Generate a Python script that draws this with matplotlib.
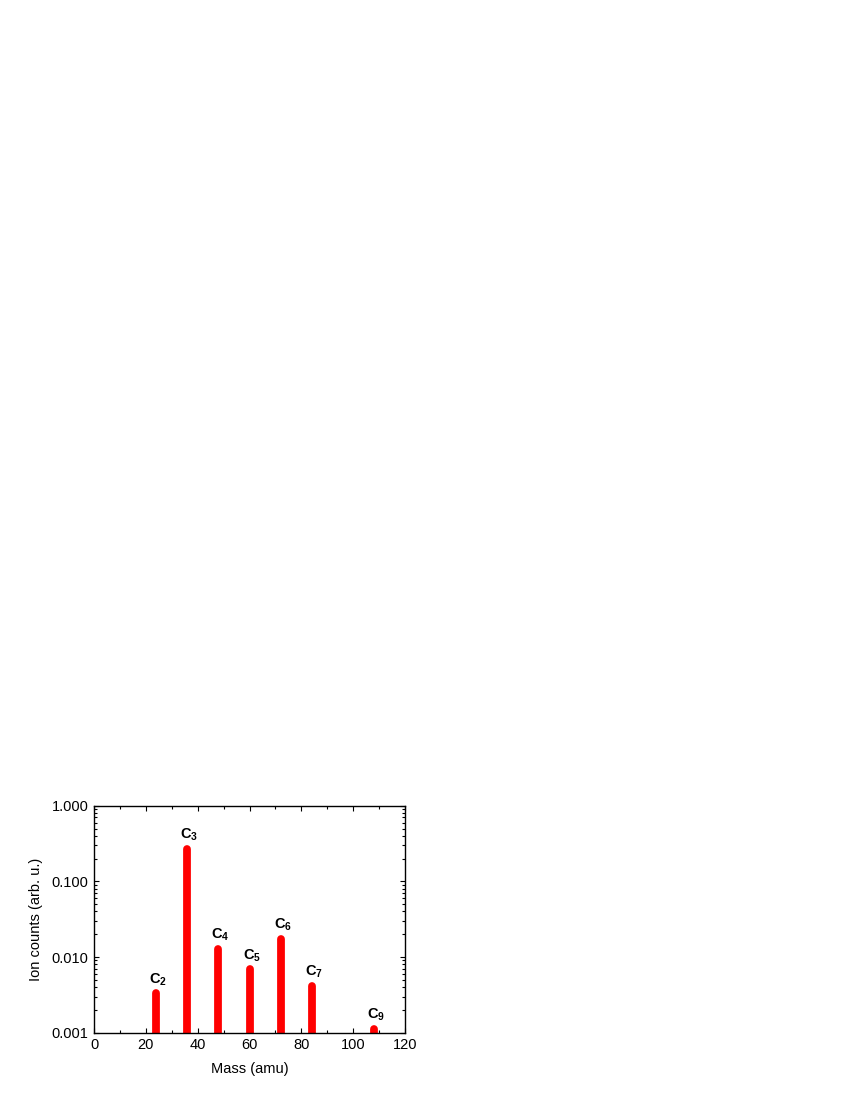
import matplotlib
matplotlib.use("Agg")
import matplotlib.pyplot as plt
from matplotlib.ticker import FixedLocator, MultipleLocator, LogLocator, NullFormatter
from matplotlib.transforms import offset_copy

plt.rcParams["font.family"] = ["Liberation Sans", "DejaVu Sans"]
plt.rcParams["mathtext.fontset"] = "custom"
plt.rcParams["mathtext.rm"] = "Liberation Sans"
plt.rcParams["mathtext.bf"] = "Liberation Sans:bold"

# cluster data
labels = ["2", "3", "4", "5", "6", "7", "9"]
masses = [24, 36, 48, 60, 72, 84, 108]
counts = [0.0037, 0.30, 0.0144, 0.0077, 0.0195, 0.0046, 0.00125]

y_ticks = [0.001, 0.01, 0.1, 1.0]
y_tick_labels = ["0.001", "0.010", "0.100", "1.000"]

fig = plt.figure(figsize=(8.5, 11), dpi=100)
ax = fig.add_axes([0.1106, 0.0612, 0.366, 0.2063])

# thick red lines with round tops, shifted down by the cap radius
bar_tr = offset_copy(ax.transData, fig=fig, x=0, y=-3.8, units="dots")
ax.vlines(masses, 0.0005, counts, colors="#ff0000", linewidth=5.6,
          capstyle="round", transform=bar_tr)

for lab, m, c in zip(labels, masses, counts):
    ax.annotate(r"$\mathbf{C}_{\mathbf{" + lab + "}}$", (m, c), xytext=(1.5, 1.5),
                textcoords="offset points", ha="center", va="bottom", fontsize=10.5)

ax.set_yscale("log")
ax.set_xlim(0, 120)
ax.set_ylim(0.001, 1.0)
ax.yaxis.set_major_locator(FixedLocator(y_ticks))
ax.set_yticklabels(y_tick_labels)
ax.yaxis.set_minor_locator(LogLocator(base=10, subs=range(2, 10)))
ax.yaxis.set_minor_formatter(NullFormatter())
ax.xaxis.set_major_locator(MultipleLocator(20))
ax.xaxis.set_minor_locator(MultipleLocator(10))

for s in ax.spines.values():
    s.set_linewidth(1.0)

ax.tick_params(which="both", direction="in", top=True, right=True, labelsize=10.5)
ax.tick_params(which="major", length=3.5, width=0.8, pad=4)
ax.tick_params(which="minor", length=2, width=0.8)

ax.set_xlabel("Mass (amu)", fontsize=10.5, labelpad=7)
ax.set_ylabel("Ion counts (arb. u.)", fontsize=10.5, labelpad=6)

fig.savefig("out.png", dpi=100)
